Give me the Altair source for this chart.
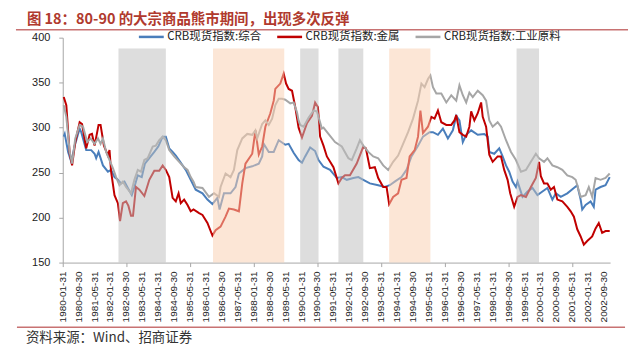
import altair as alt
import pandas as pd

# x positions: months elapsed since 1980-01 (month-end observations)
composite_m = [0.5, 1, 2.7, 4.3, 6, 8.5, 9.3, 11.8, 14.3, 16, 16.8, 18, 20.2, 22.7, 24.3, 26, 27.7, 29.3, 31, 32.7,
               34.7, 36, 37.7, 39.7, 41.3, 43.5, 46, 48, 50.2, 51.8, 53.5, 55.2, 56.8, 59, 61.8, 64.3, 66.8, 70.2, 72.7, 75.2,
               77.7, 78.8, 81, 84.3, 86.8, 88.5, 91.8, 95.2, 98.5, 100.2, 101, 103.5, 106, 108.5, 111.8, 113.5, 116, 118.5, 120.2, 121.8,
               124.3, 126.8, 128.5, 131, 134.3, 137.7, 140.2, 142.7, 146, 148.5, 151, 154.3, 158.5, 161.8, 164.3, 166.8, 170.2, 172.7, 175.2, 178.5,
               181, 184.3, 186, 188.5, 191, 193.5, 196, 197.7, 199.3, 201, 202.7, 205.2, 208.5, 211.8, 213.5, 214.3, 216.8, 219.3, 221, 222.7,
               224.3, 226, 227.7, 228.5, 231, 233.5, 236, 238.5, 241, 243.5, 246, 247.7, 250.2, 253.5, 256.8, 258.5, 260.2, 261, 262.7, 265.2,
               266.8, 267.7, 270.2, 272.7, 274.8]
composite_v = [290, 293, 273, 262, 280, 299, 295, 275, 275, 271, 266, 273, 258, 251, 253, 245, 242, 238, 240, 233,
               225, 234, 247, 245, 260, 266, 273, 279, 290, 290, 277, 273, 269, 262, 253, 242, 231, 227, 220, 215,
               222, 209, 227, 227, 234, 249, 255, 257, 260, 268, 282, 273, 273, 286, 281, 282, 272, 264, 261, 268,
               278, 274, 264, 256.5, 253, 244, 245, 242, 244, 245, 242, 238, 236, 234, 236, 240, 245, 253, 268, 280,
               290, 295, 295, 292, 299, 288, 297, 313, 308, 284, 292, 297, 292, 293, 290, 273, 271, 277, 268, 258,
               251, 240, 234, 240, 223, 229, 233, 225, 229, 233, 220, 227, 223, 227, 233, 236, 220, 209, 214, 218,
               212, 231, 234, 236, 245]

metals_m = [0.5, 1.8, 3.5, 4.7, 6.3, 8.5, 9.7, 11.8, 13.5, 14.7, 16, 18, 19, 20.7, 22.7, 23.5, 24.3, 26, 27.7, 28.8,
            30.2, 31.8, 33, 34.3, 35.3, 36.8, 38.5, 41, 43.5, 46, 48.5, 50.2, 51.8, 53.5, 55.2, 56.8, 58.2, 59.3, 61, 62.7,
            64.3, 65.7, 68.5, 70.2, 72.7, 75.2, 76.8, 79.3, 81.8, 83.5, 86, 88.5, 90.2, 91.8, 95.2, 96.8, 98.5, 100.2, 101.8, 104.3,
            106, 106.8, 109.3, 111, 112.2, 113.5, 115.2, 116.8, 118.5, 120.2, 122.7, 125.2, 126.8, 128.2, 129.3, 131, 132.7, 136, 138.5, 140.2,
            141.8, 144.3, 147.7, 151, 152.3, 154.3, 156.8, 158.5, 161, 162.7, 164, 166, 168.5, 170.2, 172.7, 174.3, 176.8, 178.5, 179.7, 181,
            183.5, 185.2, 186.8, 188.5, 190.2, 192.7, 195.2, 196.8, 197.7, 199.3, 201, 202.7, 204.3, 205.2, 206.8, 208.5, 210.2, 211, 212.7, 214.3,
            216, 218.5, 220.2, 221.8, 223.5, 224.8, 226.8, 228.5, 230.2, 232.7, 235.2, 237.7, 239.3, 240.2, 241.8, 243.5, 245.2, 246.8, 248.5, 251,
            253.5, 255.2, 256.8, 258.5, 260.2, 261.8, 263.5, 266, 267.7, 269.3, 271, 272.7, 274.8]
metals_v = [334, 325, 271, 258, 284, 306, 304, 277, 292, 293, 280, 303, 303, 280, 269, 275, 251, 225, 216, 196,
            216, 218, 213, 202, 202, 234, 231, 224, 242, 252, 252, 258, 253, 245, 222, 218, 227, 216, 220, 214,
            207, 209, 205, 203, 194, 180, 186, 190, 201, 210, 209, 207, 238, 260, 271, 297, 270, 279, 301, 316,
            330, 343, 349, 360, 349, 343, 341, 323, 300, 289, 305, 313, 328, 323, 290, 280, 268, 256, 238, 244,
            247, 247, 260, 279, 277, 255, 256, 244, 234, 234, 215, 223, 227, 242, 244, 268, 275, 290, 319, 294,
            301, 312, 310, 319, 306, 303, 303, 308, 314, 295, 292, 290, 301, 318, 308, 316, 328, 312, 301, 270,
            262, 268, 268, 253, 242, 227, 212, 223, 225, 223, 234, 244, 262, 246, 238, 238, 231, 234, 220, 218,
            212, 207, 201, 187, 179, 170, 174, 179, 188, 194, 183, 185, 185]

industrial_m = [0.5, 1.8, 3.5, 4.7, 6.3, 8.5, 10.2, 12.3, 14, 16, 17.7, 19, 20.2, 21.8, 23.5, 25.2, 26.8, 28.5, 30.2, 31.8,
                34.3, 36, 37.7, 39.3, 41, 42.7, 45.2, 46.8, 48.5, 50.2, 51.8, 53.5, 56, 58.5, 61, 62.7, 64.3, 65.7, 66.8, 70.2,
                73.5, 76, 78.5, 79.3, 81.8, 84.3, 86, 87.7, 90.2, 92.7, 95.2, 96.8, 97.7, 100.2, 101.8, 103.5, 105.2, 106.8, 108.5, 110.2,
                111.8, 114.3, 116, 117.7, 118.5, 119.3, 121, 123.5, 126, 127.7, 130.2, 131, 133.5, 136.8, 140.2, 143.5, 145.2, 147.7, 149.3, 151,
                153.5, 156, 158.5, 161, 163.5, 166, 168.5, 171, 173.5, 176, 178.5, 180.2, 181.8, 183.5, 184.7, 186, 187.7, 190.2, 192.7, 195.2,
                197.7, 199.3, 201, 202.7, 204.3, 206, 208.5, 211, 212.7, 214.3, 216, 218.5, 220.2, 222.7, 225.2, 227.7, 230.2, 232.7, 235.2, 237.7,
                239.3, 241.8, 243.5, 246, 248.5, 251, 253.5, 256, 257.7, 260.2, 262.7, 264.3, 266, 267.7, 270.2, 272.7, 274.8]
industrial_v = [325, 312, 273, 260, 288, 303, 301, 284, 288, 282, 288, 282, 288, 273, 264, 255, 245, 236, 240, 234,
                227, 242, 253, 251, 264, 266, 279, 280, 286, 290, 286, 275, 268, 262, 256, 253, 245, 240, 234, 233,
                223, 227, 223, 234, 249, 245, 253, 275, 288, 293, 292, 297, 288, 304, 308, 303, 310, 325, 332, 332,
                331, 327, 328, 317, 308, 303, 301, 311, 319, 318, 299, 300, 293, 284, 279, 266, 264, 277, 286, 280,
                273, 268, 266, 258, 253, 262, 269, 282, 295, 310, 330, 349, 345, 354, 358, 345, 338, 338, 328, 336,
                330, 347, 336, 328, 339, 334, 341, 336, 330, 308, 301, 306, 301, 286, 273, 264, 251, 253, 262, 271,
                266, 262, 266, 258, 256, 253, 247, 245, 242, 223, 225, 234, 223, 244, 242, 244, 249]

series_names = ["CRB现货指数:综合", "CRB现货指数:金属", "CRB现货指数:工业原料"]
series_colors = ["#4A7EBB", "#C00000", "#A6A6A6"]

# shaded periods (months since 1980-01): grey = bear market, orange = rebound
band_start = [28, 75.5, 119.3, 138.5, 164, 228]
band_end = [51.8, 111.3, 128.5, 151, 184.7, 239.3]
band_kind = ["bear", "rebound", "bear", "bear", "rebound", "bear"]
band_top = 388
band_bottom = 150

tick_months = list(range(0, 273, 8))
tick_labels = ["1980-01-31", "1980-09-30", "1981-05-31", "1982-01-31", "1982-09-30", "1983-05-31", "1984-01-31",
               "1984-09-30", "1985-05-31", "1986-01-31", "1986-09-30", "1987-05-31", "1988-01-31", "1988-09-30",
               "1989-05-31", "1990-01-31", "1990-09-30", "1991-05-31", "1992-01-31", "1992-09-30", "1993-05-31",
               "1994-01-31", "1994-09-30", "1995-05-31", "1996-01-31", "1996-09-30", "1997-05-31", "1998-01-31",
               "1998-09-30", "1999-05-31", "2000-01-31", "2000-09-30", "2001-05-31", "2002-01-31", "2002-09-30"]
y_ticks = [150, 200, 250, 300, 350, 400]

title_text = "图 18：80-90 的大宗商品熊市期间，出现多次反弹"
source_text = "资料来源：Wind、招商证券"

frames = []
for name, ms, vs in zip(series_names, [composite_m, metals_m, industrial_m], [composite_v, metals_v, industrial_v]):
    frames.append(pd.DataFrame({"series": name, "m": ms, "v": vs}))
lines_df = pd.concat(frames, ignore_index=True)

bands_df = pd.DataFrame({"s": band_start, "e": band_end, "kind": band_kind,
                         "y0": band_bottom, "y1": band_top})

ticks_df = pd.DataFrame({"m": tick_months, "label": tick_labels})

cjk = "Noto Sans CJK SC"
lat = "Liberation Sans"
PLOT_H = 226

x_scale = alt.Scale(domain=[0, 275], nice=False, zero=False)
y_scale = alt.Scale(domain=[150, 400], nice=False, zero=False)

lines = alt.Chart(lines_df).mark_line(strokeWidth=2).encode(
    x=alt.X("m:Q", scale=x_scale,
            axis=alt.Axis(values=tick_months, labels=False, title=None, grid=False, domainColor="#A6A6A6",
                          tickColor="#A6A6A6", tickSize=4)),
    y=alt.Y("v:Q", scale=y_scale,
            axis=alt.Axis(values=y_ticks, title=None, grid=False, domainColor="#A6A6A6", tickColor="#A6A6A6",
                          tickSize=4, labelPadding=9, labelFont=lat, labelFontSize=11, labelColor="#222222")),
    color=alt.Color("series:N", sort=series_names,
                    scale=alt.Scale(domain=series_names, range=series_colors),
                    legend=alt.Legend(title=None, orient="none", legendX=75, legendY=-15, direction="horizontal",
                                      symbolType="stroke", symbolSize=625, symbolStrokeWidth=2.5,
                                      labelFont=cjk, labelFontSize=11.5, labelColor="#222222",
                                      columnPadding=10, padding=0, labelOffset=2)),
    detail="series:N",
)

bands = alt.Chart(bands_df).mark_rect(opacity=0.53).encode(
    x=alt.X("s:Q", scale=x_scale),
    x2="e:Q",
    y=alt.Y("y0:Q", scale=y_scale),
    y2="y1:Q",
    fill=alt.Fill("kind:N", scale=alt.Scale(domain=["bear", "rebound"], range=["#BFBFBF", "#F9D0B2"]), legend=None),
)

x_labels = alt.Chart(ticks_df).mark_text(angle=270, align="right", baseline="middle", font=lat, fontSize=10,
                                         color="#222222").encode(
    x=alt.X("m:Q", scale=x_scale),
    y=alt.value(PLOT_H + 9),
    text="label:N",
)

one = alt.Data(values=[{"title": title_text, "source": source_text}])

title_mark = alt.Chart(one).mark_text(align="left", baseline="middle", font=cjk, fontSize=14.5,
                                      fontWeight="bold", color="#B03A2E").encode(
    x=alt.value(-36), y=alt.value(-17.5), text="title:N")

source_mark = alt.Chart(one).mark_text(align="left", baseline="middle", font=cjk, fontSize=13.5,
                                       color="#333333").encode(
    x=alt.value(-37), y=alt.value(302), text="source:N")

top_rule = alt.Chart(one).mark_rule(color="#C87272", strokeWidth=1.5).encode(
    x=alt.value(-47), x2=alt.value(568), y=alt.value(-8))
bottom_rule = alt.Chart(one).mark_rule(color="#C87272", strokeWidth=1.5).encode(
    x=alt.value(-46), x2=alt.value(565), y=alt.value(291))

chart = alt.layer(lines, bands, x_labels, title_mark, source_mark, top_rule, bottom_rule).properties(
    width=550, height=PLOT_H,
    autosize=alt.AutoSizeParams(type="none"),
    padding={"left": 55, "top": 29, "right": 22, "bottom": 82},
    background="white",
).configure_view(stroke=None)

chart.save("out.html", embed_options={"renderer": "svg", "actions": False})
